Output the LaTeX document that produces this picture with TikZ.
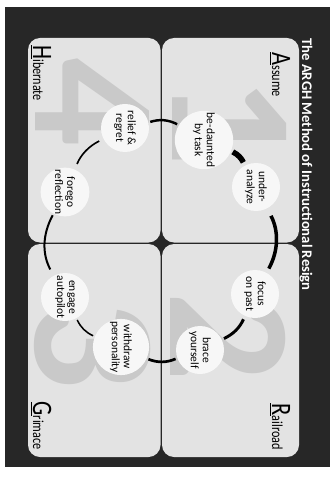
\documentclass[tikz,border=0pt]{standalone}
\usepackage{fontspec}
\setmainfont{Carlito}
\newfontfamily\narrowfont{Carlito}[FakeStretch=0.8]
\definecolor{board}{HTML}{272727}
\definecolor{card}{HTML}{E3E3E3}
\definecolor{numeral}{HTML}{C9C9C9}
\definecolor{bubble}{HTML}{F7F7F7}
\newcommand{\initial}[2]{{\narrowfont\fontsize{24}{24}\selectfont\underline{#1}}{\narrowfont\fontsize{13}{13}\selectfont#2}}
\tikzset{
  card/.style={fill=card,rounded corners=3.6mm},
  bubble/.style={circle,fill=bubble,minimum size=14.4mm,inner sep=0pt,
    align=center,font=\fontsize{9.8}{10.2}\selectfont},
  numeral/.style={text=numeral,inner sep=0pt,anchor=base,
    font=\bfseries\fontsize{150}{150}\selectfont},
  heading/.style={inner sep=0pt,text=black},
  ring/.style={draw=black,shorten <=1.5pt,shorten >=1.5pt},
}

\begin{document}
\begin{tikzpicture}[x=0.03cm,y=0.03cm,rotate=-90,transform shape]
  \useasboundingbox (0,0) rectangle (483,334);
  \fill[board] (7,5) rectangle (467,330);
  % the four cards
  \fill[card] (38,162) rectangle (242.5,299);
  \fill[card] (244,162) rectangle (457,299);
  \fill[card] (244,28) rectangle (457,160.5);
  \fill[card] (38,28) rectangle (242.5,160.5);
  \node[anchor=base west,text=white,inner sep=0pt,
    font=\bfseries\fontsize{12.5}{12.5}\selectfont] (title) at (38,302)
    {The ARGH Method of Instructional Resign};
  \node[numeral] (one) at (122,172) {1};
  \node[numeral] (two) at (337,170) {2};
  \node[numeral] (three) at (345,35) {3};
  \node[numeral] (four) at (102,35) {4};
  \node[heading,anchor=base west] (assume) at (52,272) {\initial{A}{ssume}};
  \node[heading,anchor=base east] (railroad) at (450,272) {\initial{R}{ailroad}};
  \node[heading,anchor=base east] (grimace) at (450,33) {\initial{G}{rimace}};
  \node[heading,anchor=base west] (hibernate) at (45,33) {\initial{H}{ibernate}};
  % steps round the ring
  \node[bubble] (bedaunted) at (140,204) {be-daunted\\by task};
  \node[bubble] (underanalyze) at (187,256) {under-\\analyze};
  \node[bubble] (focus) at (294,255) {focus\\on past};
  \node[bubble] (brace) at (350,200) {brace\\yourself};
  \node[bubble] (withdraw) at (347,121) {withdraw\\personality};
  \node[bubble] (engage) at (297,65) {engage\\autopilot};
  \node[bubble] (forego) at (192,65) {forego\\reflection};
  \node[bubble] (relief) at (128,125) {relief \&\\regret};
  \draw[ring,line width=2.1pt] (relief) to[bend left=22] (bedaunted);
  \draw[ring,line width=4.7pt,shorten >=3pt] (bedaunted) to[bend left=20] (underanalyze);
  \draw[ring,line width=3pt,shorten <=7pt,shorten >=4pt] (underanalyze) to[bend left=28] (focus);
  \draw[ring,line width=2.5pt,shorten <=3pt,shorten >=2pt] (focus) to[bend left=20] (brace);
  \draw[ring,line width=2.3pt] (brace) to[bend left=22] (withdraw);
  \draw[ring,line width=1.3pt] (withdraw) to[bend left=20] (engage);
  \draw[ring,line width=1.7pt,shorten <=6pt] (engage) to[bend left=28] (forego);
  \draw[ring,line width=1.4pt,shorten <=5pt,shorten >=4pt] (forego) to[bend left=20] (relief);
\end{tikzpicture}
\end{document}
